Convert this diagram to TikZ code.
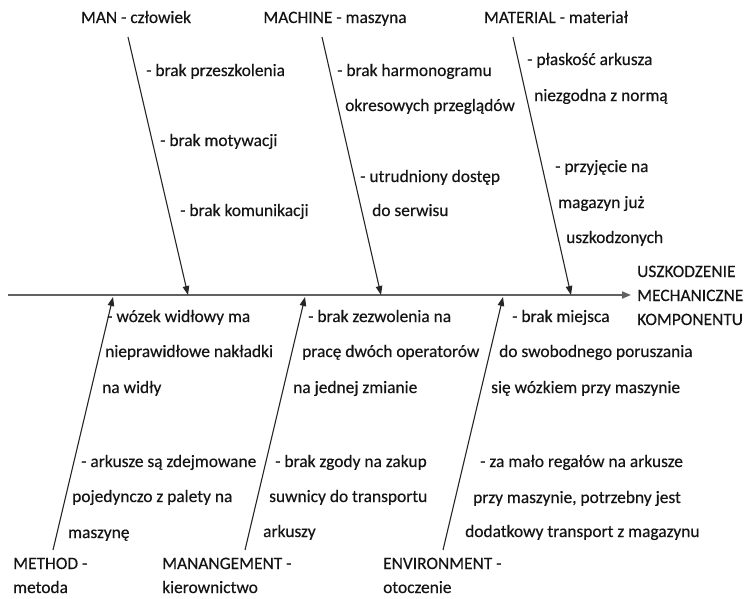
\documentclass[tikz,border=0pt]{standalone}
\usepackage{fontspec}
\setmainfont{Carlito}
\newfontfamily\diagfont[FakeBold=0.35]{Carlito}
\usetikzlibrary{arrows.meta}

\begin{document}
\begin{tikzpicture}[x=1pt,y=-1pt,
  txt/.style={anchor=west,inner sep=0pt,text height=12pt,text depth=4pt,
    font=\diagfont\fontsize{17.4}{20}\selectfont,text=black!92},
  bone/.style={draw=black!85,line width=1.1pt,
    -{Triangle[length=9pt,width=6.5pt]}},
  spine/.style={draw=black!62,line width=1.8pt,
    -{Triangle[length=9pt,width=7pt]}}]
\useasboundingbox (0,0) rectangle (746,598);

% main spine and effect
\coordinate (sp0) at (8,295);
\coordinate (sp1) at (631,295);
\draw[spine] (sp0) -- (sp1);
\node[txt] (eff1) at (637,273) {USZKODZENIE};
\node[txt] (eff2) at (637,297) {MECHANICZNE};
\node[txt] (eff3) at (637,321) {KOMPONENTU};

% upper bones
\coordinate (manS) at (128,37);  \coordinate (manE) at (188,295);
\coordinate (macS) at (322,37);  \coordinate (macE) at (381,295);
\coordinate (matS) at (513,37);  \coordinate (matE) at (571,295);
\draw[bone] (manS) -- (manE);
\draw[bone] (macS) -- (macE);
\draw[bone] (matS) -- (matE);

\node[txt,anchor=center] (manH) at (136,19) {MAN - człowiek};
\node[txt,anchor=center] (macH) at (335,19) {MACHINE - maszyna};
\node[txt,anchor=center] (matH) at (556,19) {MATERIAL - materiał};

\node[txt] (man1) at (146,72)  {- brak przeszkolenia};
\node[txt] (man2) at (160,142) {- brak motywacji};
\node[txt] (man3) at (180,212) {- brak komunikacji};

\node[txt] (mac1) at (337,72)  {- brak harmonogramu};
\node[txt] (mac2) at (345,107) {okresowych przeglądów};
\node[txt] (mac3) at (360,178) {- utrudniony dostęp};
\node[txt] (mac4) at (372,212) {do serwisu};

\node[txt] (mat1) at (527,61)  {- płaskość arkusza};
\node[txt] (mat2) at (534,97)  {niezgodna z normą};
\node[txt] (mat3) at (555,168) {- przyjęcie na};
\node[txt] (mat4) at (558,204) {magazyn już};
\node[txt] (mat5) at (566,239) {uszkodzonych};

% lower bones
\coordinate (metS) at (53,550);  \coordinate (metE) at (113,297);
\coordinate (mgtS) at (245,550); \coordinate (mgtE) at (305,297);
\coordinate (envS) at (443,550); \coordinate (envE) at (503,297);
\draw[bone] (metS) -- (metE);
\draw[bone] (mgtS) -- (mgtE);
\draw[bone] (envS) -- (envE);

\node[txt] (metH1) at (13,565) {METHOD -};
\node[txt] (metH2) at (13,589) {metoda};
\node[txt] (mgtH1) at (162,565) {MANANGEMENT -};
\node[txt] (mgtH2) at (162,589) {kierownictwo};
\node[txt] (envH1) at (383,565) {ENVIRONMENT -};
\node[txt] (envH2) at (383,589) {otoczenie};

\node[txt] (met1) at (107,318) {- wózek widłowy ma};
\node[txt] (met2) at (105,353) {nieprawidłowe nakładki};
\node[txt] (met3) at (102,389) {na widły};
\node[txt] (met4) at (81,463)  {- arkusze są zdejmowane};
\node[txt] (met5) at (72,498)  {pojedynczo z palety na};
\node[txt] (met6) at (68,534)  {maszynę};

\node[txt] (mgt1) at (308,318) {- brak zezwolenia na};
\node[txt] (mgt2) at (302,353) {pracę dwóch operatorów};
\node[txt] (mgt3) at (293,389) {na jednej zmianie};
\node[txt] (mgt4) at (275,463) {- brak zgody na zakup};
\node[txt] (mgt5) at (269,498) {suwnicy do transportu};
\node[txt] (mgt6) at (263,533) {arkuszy};

\node[txt] (env1) at (512,318) {- brak miejsca};
\node[txt] (env2) at (499,353) {do swobodnego poruszania};
\node[txt] (env3) at (491,389) {się wózkiem przy maszynie};
\node[txt] (env4) at (480,463) {- za mało regałów na arkusze};
\node[txt] (env5) at (473,499) {przy maszynie, potrzebny jest};
\node[txt] (env6) at (465,533) {dodatkowy transport z magazynu};
\end{tikzpicture}
\end{document}
